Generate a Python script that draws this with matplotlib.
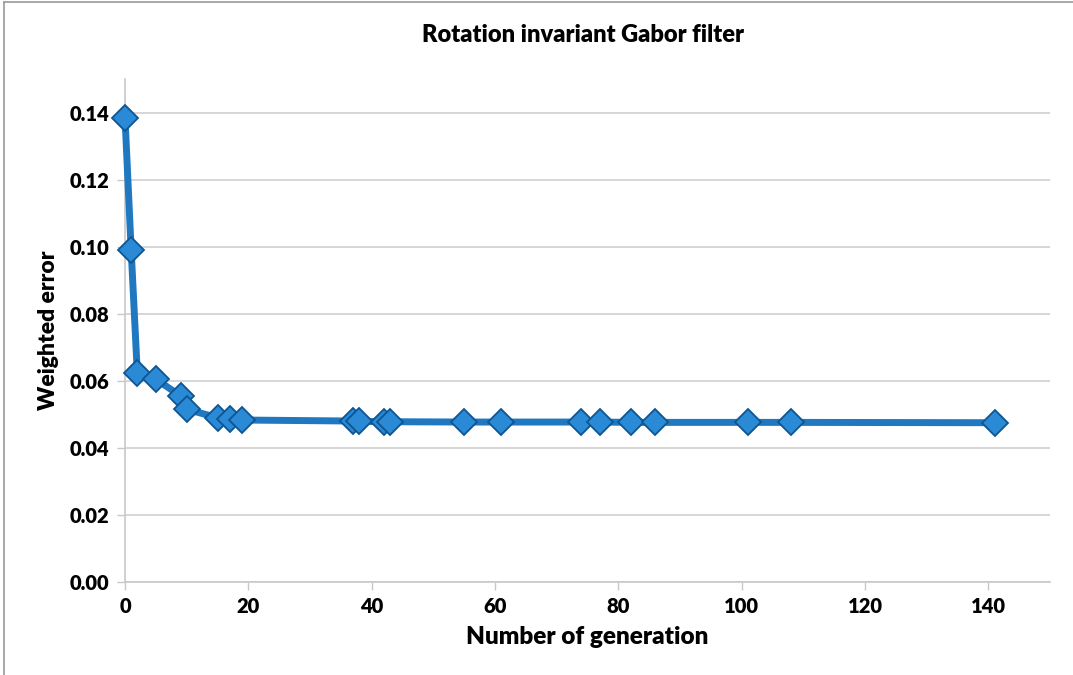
import matplotlib
matplotlib.use("Agg")
import matplotlib.pyplot as plt
from matplotlib.lines import Line2D

generation = [0, 1, 2, 5, 9, 10, 15, 17, 19, 37, 38, 42, 43, 55, 61, 74, 77, 82, 86, 101, 108, 141]
weighted_error = [0.1385, 0.0990, 0.0622, 0.0605, 0.0555, 0.0515, 0.0490, 0.0485, 0.0483,
                  0.0480, 0.0479, 0.0478, 0.0478, 0.0477, 0.0477, 0.0477, 0.0477, 0.0476,
                  0.0476, 0.0476, 0.0476, 0.0475]
x_ticks = [0, 20, 40, 60, 80, 100, 120, 140]
y_ticks = [0.00, 0.02, 0.04, 0.06, 0.08, 0.10, 0.12, 0.14]

plt.rcParams['font.family'] = ['Lato', 'DejaVu Sans']

fig = plt.figure(figsize=(10.73, 6.75), dpi=100)
ax = fig.add_axes([125/1073, 1-582/675, (1050-125)/1073, (582-79)/675])

ax.plot(generation, weighted_error, color='#1f78c0', lw=5, marker='D', markersize=13,
        markerfacecolor='#2a8ad6', markeredgecolor='#0f5592', markeredgewidth=1.3,
        solid_joinstyle='round', zorder=3, clip_on=False)

ax.set_xlim(0, 150)
ax.set_ylim(0, 0.15)
ax.set_xticks(x_ticks)
ax.set_xticklabels([str(v) for v in x_ticks])
ax.set_yticks(y_ticks)
ax.set_yticklabels([f"{v:.2f}" for v in y_ticks])
ax.grid(axis='y', color='#d0d0d0', lw=1.2)
ax.set_axisbelow(True)
for s in ['top', 'right']:
    ax.spines[s].set_visible(False)
for s in ['left', 'bottom']:
    ax.spines[s].set_color('#c8c8c8')
    ax.spines[s].set_linewidth(1.2)
ax.tick_params(axis='both', direction='out', length=6, width=1, color='#c8c8c8',
               labelsize=14.5, pad=5)
for lab in ax.get_xticklabels() + ax.get_yticklabels():
    lab.set_fontweight('heavy')

ax.set_xlabel('Number of generation', fontsize=17.5, fontweight='heavy', labelpad=7)
ax.set_ylabel('Weighted error', fontsize=16.5, fontweight='heavy', labelpad=8)
fig.text(583/1073, 1-35/675, 'Rotation invariant Gabor filter', ha='center', va='center',
         fontsize=17, fontweight='heavy')

# chart border
fig.add_artist(Line2D([4/1073, 4/1073], [0, 1-2/675], transform=fig.transFigure,
                      color='#9a9a9a', lw=1.2))
fig.add_artist(Line2D([4/1073, 1], [1-2/675, 1-2/675], transform=fig.transFigure,
                      color='#9a9a9a', lw=1.2))

fig.savefig('out.png', dpi=100)
